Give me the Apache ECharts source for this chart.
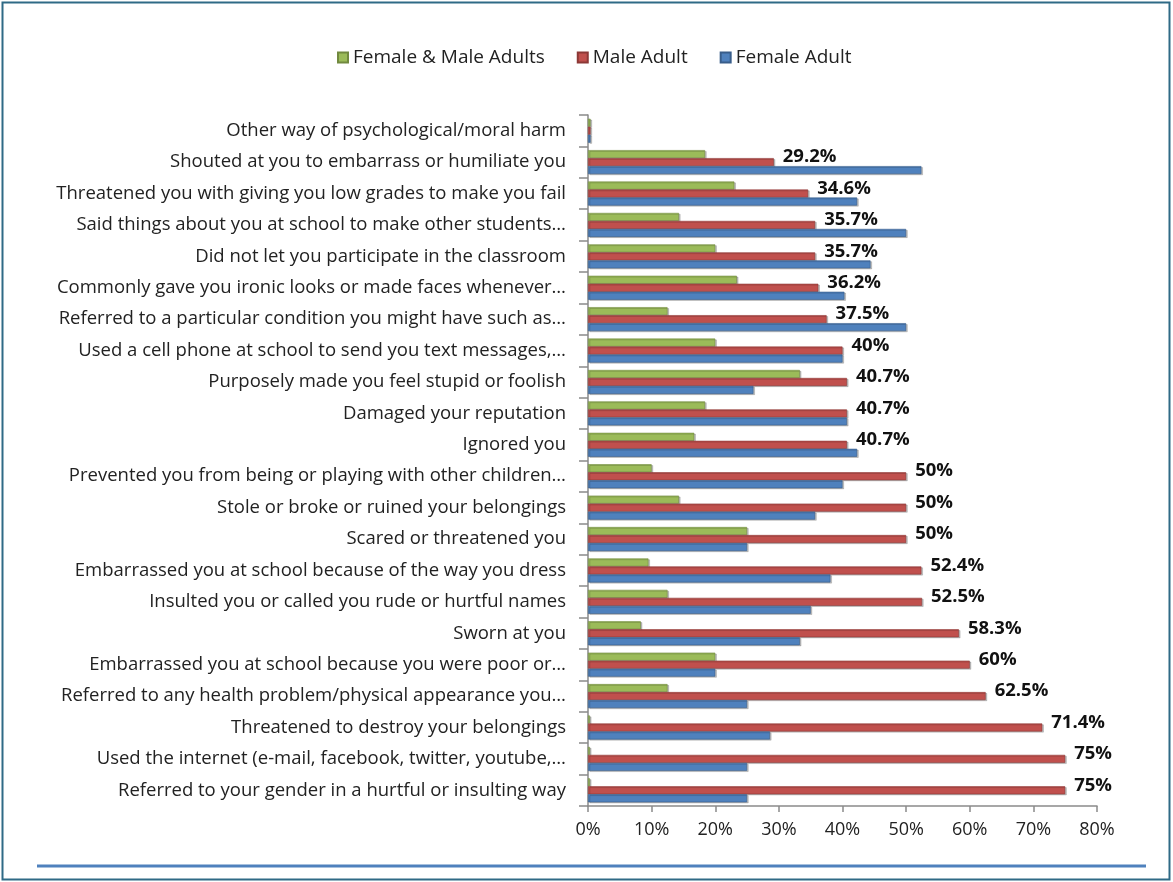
<!DOCTYPE html>
<html>
<head>
<meta charset="utf-8">
<title>Psychological harm by adults at school</title>
<script src="https://cdn.jsdelivr.net/npm/echarts@6/dist/echarts.min.js"></script>
<style>
  html, body { margin: 0; padding: 0; background: #fff; }
  #chart { width: 1173px; height: 882px; }
</style>
</head>
<body>
<div id="chart"></div>
<script>
// Categories, listed from the top row to the bottom row
const categories = [
  'Other way of psychological/moral harm',
  'Shouted at you to embarrass or humiliate you',
  'Threatened you with giving you low grades to make you fail',
  'Said things about you at school to make other students…',
  'Did not let you participate in the classroom',
  'Commonly gave you ironic looks or made faces whenever…',
  'Referred to a particular condition you might have such as…',
  'Used a cell phone at school to send you text messages,…',
  'Purposely made you feel stupid or foolish',
  'Damaged your reputation',
  'Ignored you',
  'Prevented you from being or playing with other children…',
  'Stole or broke or ruined your belongings',
  'Scared or threatened you',
  'Embarrassed you at school because of the way you dress',
  'Insulted you or called you rude or hurtful names',
  'Sworn at you',
  'Embarrassed you at school because you were poor or…',
  'Referred to any health problem/physical appearance you…',
  'Threatened to destroy your belongings',
  'Used the internet (e-mail, facebook, twitter, youtube,…',
  'Referred to your gender in a hurtful or insulting way'
];

const seriesNames = ['Female & Male Adults', 'Male Adult', 'Female Adult'];

// Percentages, same order as categories
const bothAdults  = [0.4, 18.4, 23, 14.3, 20, 23.4, 12.5, 20, 33.3, 18.4, 16.7, 10, 14.3, 25, 9.5, 12.5, 8.3, 20, 12.5, 0.3, 0.3, 0.3];
const maleAdult   = [0.4, 29.2, 34.6, 35.7, 35.7, 36.2, 37.5, 40, 40.7, 40.7, 40.7, 50, 50, 50, 52.4, 52.5, 58.3, 60, 62.5, 71.4, 75, 75];
const femaleAdult = [0.4, 52.4, 42.3, 50, 44.4, 40.3, 50, 40, 26, 40.7, 42.3, 40, 35.7, 25, 38.1, 35, 33.3, 20, 25, 28.6, 25, 25];

const xTicks = [0, 10, 20, 30, 40, 50, 60, 70, 80];

const colors = ['#9bbb59', '#c0504d', '#4f81bd'];
const edges  = ['#71893f', '#8c3836', '#385d8a'];
const FONT = '"Open Sans"';

const chart = echarts.init(document.getElementById('chart'));

function barSeries(i, data, withLabels) {
  return {
    name: seriesNames[i],
    type: 'bar',
    data: data,
    barWidth: 8,
    barGap: '0%',
    itemStyle: {
      color: colors[i],
      borderColor: edges[i],
      borderWidth: 0.6,
      shadowColor: 'rgba(0,0,0,0.25)',
      shadowOffsetX: 1.5,
      shadowOffsetY: 1
    },
    label: withLabels ? {
      show: true,
      position: 'right',
      distance: 9,
      offset: [0, -5],
      fontFamily: FONT,
      fontSize: 18.5,
      fontWeight: 'bold',
      color: '#111',
      formatter: p => (p.value >= 1 ? p.value + '%' : '')
    } : { show: false },
    animation: false
  };
}

chart.setOption({
  animation: false,
  textStyle: { fontFamily: FONT },
  legend: {
    data: seriesNames,
    top: 43,
    left: 332,
    itemWidth: 10,
    itemHeight: 10,
    itemGap: 32,
    icon: 'rect',
    textStyle: { fontFamily: FONT, fontSize: 19, color: '#222' }
  },
  grid: { left: 588, right: 76, top: 115, bottom: 76, containLabel: false },
  xAxis: {
    type: 'value',
    min: xTicks[0],
    max: xTicks[xTicks.length - 1],
    interval: xTicks[1] - xTicks[0],
    splitLine: { show: false },
    axisLine: { show: true, lineStyle: { color: '#8a8a8a', width: 1.5 } },
    axisTick: { show: true, length: 6, lineStyle: { color: '#8a8a8a', width: 1.5 } },
    axisLabel: {
      margin: 15,
      fontFamily: FONT,
      fontSize: 18,
      color: '#222',
      formatter: v => v + '%'
    }
  },
  yAxis: {
    type: 'category',
    inverse: true,
    data: categories,
    axisLine: { show: true, lineStyle: { color: '#8a8a8a', width: 1.5 } },
    axisTick: { show: true, length: 9, inside: false, lineStyle: { color: '#8a8a8a', width: 1.5 } },
    axisLabel: {
      margin: 22,
      fontFamily: FONT,
      fontSize: 18.5,
      color: '#222'
    }
  },
  graphic: [
    {
      type: 'rect',
      shape: { x: 2.5, y: 2.5, width: 1167, height: 877 },
      style: { fill: 'none', stroke: '#2f6a86', lineWidth: 2 },
      silent: true
    },
    {
      type: 'line',
      shape: { x1: 37, y1: 866, x2: 1146, y2: 866 },
      style: { stroke: '#4f81bd', lineWidth: 3 },
      silent: true
    }
  ],
  series: [
    barSeries(0, bothAdults, false),
    barSeries(1, maleAdult, true),
    barSeries(2, femaleAdult, false)
  ]
});
</script>
</body>
</html>
